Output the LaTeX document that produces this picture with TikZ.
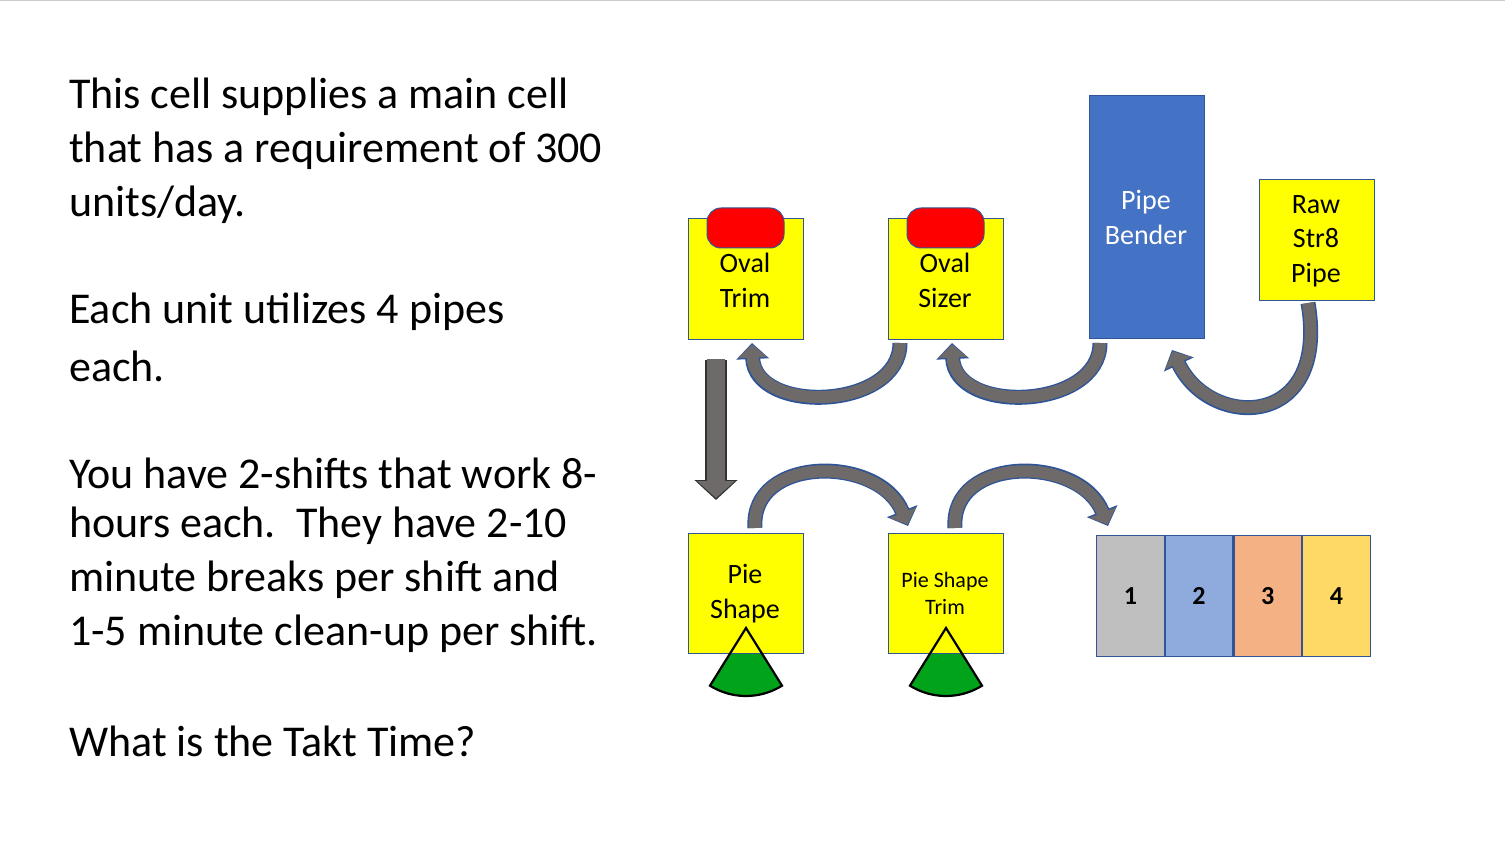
\documentclass[tikz,border=0pt]{standalone}
\usepackage{fontspec}
\setmainfont{Carlito}
\usetikzlibrary{arrows.meta}
\definecolor{ed}{HTML}{2F5597}
\definecolor{ar}{HTML}{6E6A6A}
\definecolor{ylw}{HTML}{FFFF00}
\definecolor{blu}{HTML}{4472C4}
\tikzset{
  box/.style={draw=ed,line width=1.2pt,fill=ylw,minimum width=115pt,inner sep=0pt,align=center,font=\fontsize{28}{35}\selectfont},
  ltxt/.style={anchor=west,inner sep=0pt,font=\fontsize{44}{48}\selectfont},
  num/.style={draw=ed,line width=1.2pt,minimum width=67.5pt,minimum height=121pt,inner sep=0pt,font=\fontsize{26}{30}\selectfont\bfseries},
  pill/.style={draw=ed,line width=1pt,fill=red,rounded corners=14pt},
  outa/.style={draw=ed,line width=15pt,-{Triangle[width=32pt,length=16pt]}},
  ina/.style={draw=ar,line width=12pt,-{Triangle[width=28pt,length=13pt]}},
}
\newcommand{\carr}[1]{\draw[outa,ed] #1; \draw[ina,ar,shorten >=1.5pt] #1;}
\begin{document}
\begin{tikzpicture}[x=1pt,y=-1pt]
\useasboundingbox (0,0) rectangle (1505,845);
\draw[gray!40] (0,0.5) -- (1505,0.5);
% left text
\node[ltxt] (t1) at (69,97) {This cell supplies a main cell};
\node[ltxt] (t2) at (69,151) {that has a requirement of 300};
\node[ltxt] (t3) at (69,205) {units/day.};
\node[ltxt] (t4) at (69,312) {Each unit utilizes 4 pipes};
\node[ltxt] (t5) at (69,366) {each.};
\node[ltxt] (t6) at (69,473) {You have 2-shifts that work 8-};
\node[ltxt] (t7) at (69,526) {hours each.\ \ They have 2-10};
\node[ltxt] (t8) at (69,580) {minute breaks per shift and};
\node[ltxt] (t9) at (69,634) {1-5 minute clean-up per shift.};
\node[ltxt] (t10) at (69,741) {What is the Takt Time?};
% boxes
\node[box,minimum height=121pt,anchor=north west] (ot) at (688,218) {};
\node[box,minimum height=121pt,anchor=north west] (os) at (888,218) {};
\node[box,fill=blu,minimum height=243pt,anchor=north west,text=white] (pb) at (1089,95) {};
\node[box,minimum height=121pt,anchor=north west] (raw) at (1259,179) {};
\node[box,minimum height=120pt,anchor=north west] (ps) at (688,533) {};
\node[box,minimum height=120pt,anchor=north west] (pst) at (888,533) {};
\draw[pill] (707,208) rectangle (784,248);
\draw[pill] (907,208) rectangle (984,248);
\node[box,draw=none,fill=none] (otl) at (745,280) {Oval\\Trim};
\node[box,draw=none,fill=none] (osl) at (945,280) {Oval\\Sizer};
\node[box,draw=none,fill=none,text=white] (pbl) at (1146,217) {Pipe\\Bender};
\node[box,draw=none,fill=none,font=\fontsize{28}{34.5}\selectfont] (rawl) at (1316,241) {Raw\\Str8\\Pipe};
\node[box,draw=none,fill=none] (psl) at (745,594) {Pie\\Shape};
\node[box,draw=none,fill=none,font=\fontsize{22}{27}\selectfont] (pstl) at (945,593) {Pie Shape\\Trim};
% number boxes
\node[num,fill=gray!50,anchor=north west] (n1) at (1096,535) {1};
\node[num,fill=blu!60,anchor=west] (n2) at (n1.east) {2};
\node[num,fill={rgb,255:red,244;green,177;blue,131},anchor=west] (n3) at (n2.east) {3};
\node[num,fill={rgb,255:red,255;green,217;blue,102},anchor=west] (n4) at (n3.east) {4};
% pie wedges
\foreach \cx/\nm in {746/w1,946/w2}{
  \coordinate (\nm) at (\cx,628);
  \begin{scope}
    \clip (\cx-60,654) rectangle (\cx+60,720);
    \fill[green!60!black!90!cyan] (\nm) -- ++(122:68) arc[start angle=122,end angle=58,radius=68] -- cycle;
  \end{scope}
  \draw[line width=2.2pt,line join=miter] (\nm) -- ++(122:68) arc[start angle=122,end angle=58,radius=68] -- cycle;
}
% curved arrows
\coordinate (a1) at (900,343); \coordinate (a1h) at (752,343);
\carr{(a1) .. controls (900,410) and (755,415) .. (a1h)}
\coordinate (a2) at (1100,343); \coordinate (a2h) at (952,343);
\carr{(a2) .. controls (1100,410) and (955,415) .. (a2h)}
\coordinate (a3) at (1308,303); \coordinate (a3h) at (1172,350);
\carr{(a3) .. controls (1330,430) and (1210,430) .. (a3h)}
\coordinate (b1) at (755,528); \coordinate (b1h) at (908,526);
\carr{(b1) .. controls (750,455) and (880,455) .. (b1h)}
\coordinate (b2) at (955,528); \coordinate (b2h) at (1108,526);
\carr{(b2) .. controls (950,455) and (1080,455) .. (b2h)}
% down arrow
\coordinate (d1) at (716,360); \coordinate (d1h) at (716,500);
\draw[draw=black!80,line width=22pt,-{Triangle[width=42pt,length=20pt]}] (d1) -- (d1h);
\draw[draw=ar,line width=18pt,shorten >=2pt,-{Triangle[width=37pt,length=17pt]}] ([yshift=1.5pt]d1) -- (d1h);
\end{tikzpicture}
\end{document}
